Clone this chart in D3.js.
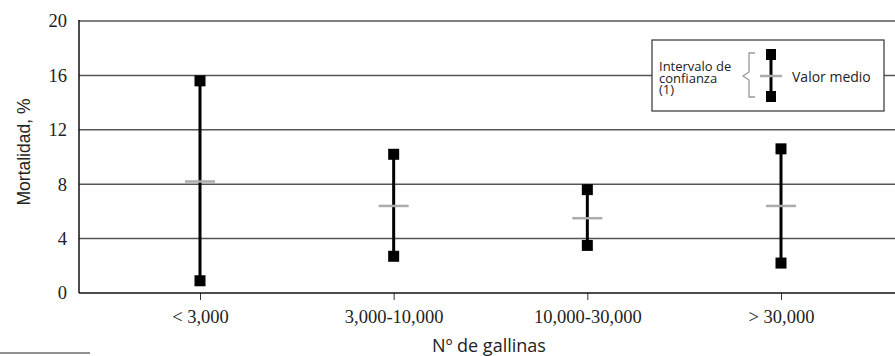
<!DOCTYPE html>
<html>
<head>
<meta charset="utf-8">
<script src="https://cdn.jsdelivr.net/npm/d3@7"></script>
<style>
  body { margin: 0; background: #fff; }
  svg { display: block; }
</style>
</head>
<body>
<svg id="chart" width="895" height="356"></svg>
<script>
// chart data
const categories = ["< 3,000", "3,000-10,000", "10,000-30,000", "> 30,000"];
const upperValues = [15.6, 10.2, 7.6, 10.6];
const lowerValues = [0.9, 2.7, 3.5, 2.2];
const meanValues = [8.2, 6.4, 5.5, 6.4];
const yTicks = [0, 4, 8, 12, 16, 20];

const svg = d3.select("#chart");

const plotLeft = 79, plotRight = 895, plotTop = 21, plotBottom = 293;

const x = d3.scalePoint()
  .domain(categories)
  .range([200, 781]);

const y = d3.scaleLinear()
  .domain([0, 20])
  .range([plotBottom, plotTop]);

// horizontal grid lines
svg.append("g")
  .selectAll("line")
  .data(yTicks.filter(d => d > 0))
  .enter()
  .append("line")
  .attr("x1", plotLeft)
  .attr("x2", plotRight)
  .attr("y1", d => y(d))
  .attr("y2", d => y(d))
  .attr("stroke", "#555")
  .attr("stroke-width", 1.5);

// y axis (labels only, line drawn below)
const yAxisG = svg.append("g")
  .attr("transform", "translate(" + plotLeft + ",0)")
  .call(d3.axisLeft(y).tickValues(yTicks).tickSize(0).tickPadding(12).tickFormat(d3.format("d")));
yAxisG.select(".domain").remove();

svg.append("line")
  .attr("x1", plotLeft).attr("x2", plotLeft)
  .attr("y1", plotTop - 1).attr("y2", plotBottom)
  .attr("stroke", "#111").attr("stroke-width", 1.5);

// x axis
const xAxisG = svg.append("g")
  .attr("transform", "translate(0," + plotBottom + ")")
  .call(d3.axisBottom(x).tickSize(7).tickPadding(10));
xAxisG.select(".domain").remove();
xAxisG.selectAll(".tick line").attr("stroke", "#333");

// serif tick labels
svg.selectAll(".tick text")
  .attr("font-family", "'Liberation Serif', 'DejaVu Serif', serif")
  .attr("font-size", 18.5)
  .attr("fill", "#222");

svg.append("line")
  .attr("x1", plotLeft).attr("x2", plotRight)
  .attr("y1", plotBottom).attr("y2", plotBottom)
  .attr("stroke", "#111").attr("stroke-width", 1.5);

// confidence intervals
const rows = categories.map((c, i) => ({ cat: c, hi: upperValues[i], lo: lowerValues[i], mean: meanValues[i] }));
const bars = svg.append("g").selectAll("g")
  .data(rows)
  .enter()
  .append("g");

bars.append("line")
  .attr("x1", d => x(d.cat)).attr("x2", d => x(d.cat))
  .attr("y1", d => y(d.hi)).attr("y2", d => y(d.lo))
  .attr("stroke", "#000").attr("stroke-width", 3);

bars.append("line")
  .attr("x1", d => x(d.cat) - 15).attr("x2", d => x(d.cat) + 15)
  .attr("y1", d => y(d.mean)).attr("y2", d => y(d.mean))
  .attr("stroke", "#ababab").attr("stroke-width", 2.5);

const sq = 11;
bars.append("rect")
  .attr("x", d => x(d.cat) - sq / 2)
  .attr("y", d => y(d.hi) - sq / 2)
  .attr("width", sq).attr("height", sq)
  .attr("fill", "#000");

bars.append("rect")
  .attr("x", d => x(d.cat) - sq / 2)
  .attr("y", d => y(d.lo) - sq / 2)
  .attr("width", sq).attr("height", sq)
  .attr("fill", "#000");

// legend
const lg = svg.append("g");
lg.append("rect")
  .attr("x", 652).attr("y", 40)
  .attr("width", 232).attr("height", 71)
  .attr("fill", "#fff").attr("stroke", "#333").attr("stroke-width", 1.2);

["Intervalo de", "confianza", "(1)"].forEach((t, i) => {
  lg.append("text")
    .attr("x", 659).attr("y", 71 + i * 11.5)
    .attr("font-family", "'Open Sans', sans-serif")
    .attr("font-size", 13)
    .attr("fill", "#222")
    .text(t);
});

lg.append("path")
  .attr("d", "M755,53 H749 V72 L743,76 L749,80 V97 H755")
  .attr("fill", "none").attr("stroke", "#999").attr("stroke-width", 1.3);

lg.append("line")
  .attr("x1", 771).attr("x2", 771).attr("y1", 54).attr("y2", 97)
  .attr("stroke", "#000").attr("stroke-width", 3);
lg.append("line")
  .attr("x1", 760).attr("x2", 782).attr("y1", 76).attr("y2", 76)
  .attr("stroke", "#ababab").attr("stroke-width", 2.5);
lg.append("rect").attr("x", 766).attr("y", 49).attr("width", 10).attr("height", 11).attr("fill", "#000");
lg.append("rect").attr("x", 766).attr("y", 91).attr("width", 10).attr("height", 11).attr("fill", "#000");

lg.append("text")
  .attr("x", 792).attr("y", 82)
  .attr("font-family", "'Open Sans', sans-serif")
  .attr("font-size", 14)
  .attr("fill", "#222")
  .text("Valor medio");

// axis titles
svg.append("text")
  .attr("transform", "translate(30,152) rotate(-90)")
  .attr("text-anchor", "middle")
  .attr("font-family", "'Liberation Sans', Arial, sans-serif")
  .attr("font-size", 17.5)
  .attr("fill", "#222")
  .text("Mortalidad, %");

svg.append("text")
  .attr("x", 489).attr("y", 352)
  .attr("text-anchor", "middle")
  .attr("font-family", "'Open Sans', sans-serif")
  .attr("font-size", 18)
  .attr("fill", "#222")
  .text("Nº de gallinas");

// footnote rule
svg.append("line")
  .attr("x1", 0).attr("x2", 90)
  .attr("y1", 353).attr("y2", 353)
  .attr("stroke", "#222").attr("stroke-width", 1);
</script>
</body>
</html>
